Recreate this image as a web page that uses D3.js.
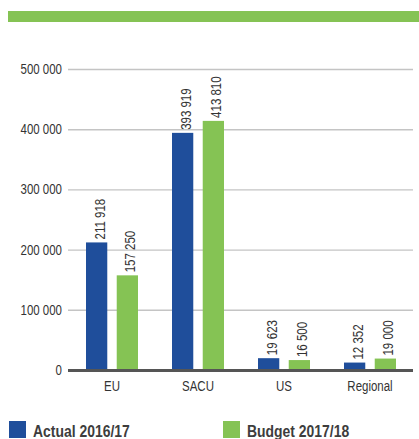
<!DOCTYPE html>
<html>
<head>
<meta charset="utf-8">
<script src="https://cdn.jsdelivr.net/npm/d3@7"></script>
<style>
  html, body { margin: 0; padding: 0; background: #fff; }
  svg { display: block; }
  text { font-family: "Liberation Sans", Arial, sans-serif; }
</style>
</head>
<body>
<svg id="chart" width="419" height="439"></svg>
<script>
// Trade categories and the two series
const categories = ["EU", "SACU", "US", "Regional"];
const seriesNames = ["Actual 2016/17", "Budget 2017/18"];
const actual = [211918, 393919, 19623, 12352];
const budget = [157250, 413810, 16500, 19000];
const yTicks = [0, 100000, 200000, 300000, 400000, 500000];

const colors = ["#1f4e9b", "#85c354"];
const fmt = v => d3.format(",")(v).replace(/,/g, " ");
const SQ = 0.82; // horizontal squeeze to give a condensed face

const svg = d3.select("#chart");

// Decorative band across the top
svg.append("rect").attr("x", 8).attr("y", 11).attr("width", 411).attr("height", 11).attr("fill", colors[1]);

const x = d3.scaleBand().domain(categories).range([69, 413]).paddingInner(0).paddingOuter(0);
const inner = d3.scaleBand().domain([0, 1]).range([17, x.bandwidth() - 17]).paddingInner(16 / 52);
const y = d3.scaleLinear().domain([0, 500000]).range([370, 69]);

// Gridlines and y tick labels
const yAxis = d3.axisLeft(y).tickValues(yTicks).tickSize(0).tickPadding(6).tickFormat(fmt);
const gy = svg.append("g").attr("transform", "translate(68,0)").call(yAxis);
gy.select(".domain").remove();
gy.selectAll(".tick text")
  .attr("font-size", 14).attr("fill", "#333")
  .attr("x", 0)
  .attr("transform", `translate(-6,0) scale(${SQ},1)`);
gy.selectAll(".tick").append("line")
  .attr("x1", 0).attr("x2", 413 - 68)
  .attr("stroke", d => d === 0 ? "#555" : "#c4c4c4")
  .attr("stroke-width", d => d === 0 ? 3 : 1.4);

const rows = categories.map((c, i) => ({ cat: c, vals: [actual[i], budget[i]] }));

const groups = svg.append("g").selectAll("g").data(rows).join("g")
  .attr("transform", d => `translate(${x(d.cat)},0)`);

groups.selectAll("rect").data(d => d.vals.map((v, k) => ({ v, k }))).join("rect")
  .attr("x", d => inner(d.k))
  .attr("width", inner.bandwidth())
  .attr("y", d => y(d.v))
  .attr("height", d => y(0) - y(d.v) - 1)
  .attr("fill", d => colors[d.k]);

// Rotated value labels above each bar
groups.selectAll("text.val").data(d => d.vals.map((v, k) => ({ v, k }))).join("text")
  .attr("class", "val")
  .attr("transform", d => `translate(${inner(d.k) + inner.bandwidth() / 2 + 8},${y(d.v) - 3}) rotate(-90) scale(${SQ},1)`)
  .attr("font-size", 14)
  .attr("fill", "#333")
  .text(d => fmt(d.v));

// Category axis
const xAxis = d3.axisBottom(x).tickSize(0).tickPadding(11);
const gx = svg.append("g").attr("transform", `translate(0,${y(0)})`).call(xAxis);
gx.select(".domain").remove();
gx.selectAll(".tick text")
  .attr("font-size", 14).attr("fill", "#333")
  .attr("transform", `scale(${SQ},1)`);

// Legend
const legend = svg.append("g").selectAll("g").data(seriesNames).join("g")
  .attr("transform", (d, i) => `translate(${i === 0 ? 9 : 223},421)`);
legend.append("rect").attr("width", 17).attr("height", 17).attr("fill", (d, i) => colors[i]);
legend.append("text")
  .attr("transform", "translate(24,16) scale(0.82,1)")
  .attr("font-size", 17).attr("font-weight", "bold").attr("fill", "#3d3d3d")
  .text(d => d);
</script>
</body>
</html>
